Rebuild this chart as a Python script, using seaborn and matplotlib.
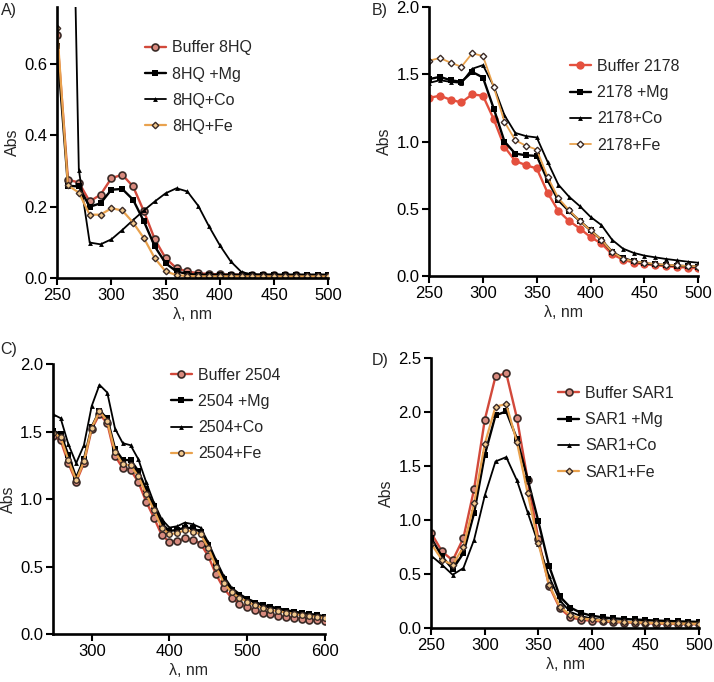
import numpy as np
import pandas as pd
import matplotlib
matplotlib.use('Agg')
import matplotlib.pyplot as plt
import seaborn as sns

sns.set_style('ticks')
plt.rcParams['font.family'] = ['Liberation Sans', 'DejaVu Sans']

# ============================================
# Data
# ============================================
WL_AB = list(range(250, 501, 10))   # panels A, B, D
WL_C = list(range(250, 601, 10))    # panel C

# A) 8HQ
A_buffer = [0.68, 0.276, 0.268, 0.215, 0.234, 0.28, 0.29, 0.257, 0.187, 0.109, 0.056, 0.028,
            0.019, 0.014, 0.012, 0.011, 0.010, 0.010, 0.009, 0.009, 0.008, 0.008, 0.008, 0.007,
            0.007, 0.007]
A_mg = [0.65, 0.259, 0.257, 0.20, 0.21, 0.248, 0.25, 0.22, 0.159, 0.089, 0.042, 0.019,
        0.012, 0.010, 0.010, 0.010, 0.010, 0.010, 0.010, 0.010, 0.010, 0.010, 0.010, 0.010,
        0.010, 0.010]
A_co = [2.2, 1.83, 0.304, 0.10, 0.095, 0.109, 0.135, 0.163, 0.19, 0.215, 0.238, 0.252,
        0.243, 0.203, 0.145, 0.092, 0.047, 0.017, 0.011, 0.010, 0.010, 0.009, 0.009, 0.009,
        0.008, 0.008]
A_fe = [0.70, 0.26, 0.24, 0.178, 0.178, 0.196, 0.19, 0.156, 0.112, 0.056, 0.019, 0.009,
        0.006, 0.005, 0.005, 0.005, 0.005, 0.005, 0.005, 0.005, 0.005, 0.005, 0.005, 0.005,
        0.005, 0.005]

# B) 2178
B_buffer = [1.324, 1.34, 1.31, 1.29, 1.35, 1.34, 1.166, 0.96, 0.856, 0.824, 0.80, 0.62,
            0.485, 0.41, 0.354, 0.29, 0.243, 0.163, 0.124, 0.10, 0.089, 0.082, 0.074, 0.069,
            0.064, 0.059]
B_mg = [1.463, 1.48, 1.455, 1.443, 1.517, 1.475, 1.245, 1.0, 0.91, 0.898, 0.893, 0.713,
        0.564, 0.483, 0.41, 0.34, 0.27, 0.18, 0.135, 0.11, 0.095, 0.088, 0.082, 0.078,
        0.074, 0.07]
B_co = [1.435, 1.455, 1.443, 1.435, 1.54, 1.567, 1.41, 1.195, 1.064, 1.04, 1.03, 0.85,
        0.68, 0.59, 0.52, 0.44, 0.38, 0.27, 0.205, 0.173, 0.153, 0.14, 0.128, 0.118,
        0.108, 0.10]
B_fe = [1.60, 1.62, 1.585, 1.555, 1.655, 1.635, 1.405, 1.146, 1.01, 0.968, 0.94, 0.738,
        0.58, 0.49, 0.41, 0.34, 0.27, 0.18, 0.13, 0.11, 0.10, 0.09, 0.085, 0.08,
        0.076, 0.072]

# C) 2504
C_buffer = [1.469, 1.437, 1.267, 1.128, 1.267, 1.519, 1.63, 1.563, 1.321, 1.23, 1.217, 1.128,
            0.983, 0.864, 0.736, 0.684, 0.69, 0.71, 0.70, 0.672, 0.578, 0.443, 0.339, 0.27,
            0.227, 0.203, 0.178, 0.158, 0.148, 0.136, 0.129, 0.121, 0.114, 0.109, 0.104, 0.096]
C_mg = [1.506, 1.486, 1.326, 1.16, 1.296, 1.536, 1.654, 1.60, 1.375, 1.29, 1.29, 1.21,
        1.074, 0.95, 0.82, 0.765, 0.773, 0.79, 0.785, 0.76, 0.66, 0.53, 0.41, 0.33,
        0.29, 0.26, 0.235, 0.215, 0.20, 0.19, 0.175, 0.165, 0.155, 0.148, 0.14, 0.13]
C_co = [1.63, 1.60, 1.407, 1.267, 1.40, 1.69, 1.847, 1.79, 1.523, 1.415, 1.40, 1.296,
        1.128, 0.975, 0.852, 0.79, 0.80, 0.827, 0.815, 0.79, 0.68, 0.55, 0.43, 0.345,
        0.30, 0.265, 0.24, 0.22, 0.205, 0.195, 0.18, 0.17, 0.16, 0.152, 0.144, 0.135]
C_fe = [1.49, 1.46, 1.29, 1.14, 1.28, 1.53, 1.65, 1.58, 1.35, 1.26, 1.25, 1.17,
        1.04, 0.92, 0.79, 0.74, 0.75, 0.77, 0.76, 0.74, 0.64, 0.50, 0.38, 0.31,
        0.27, 0.24, 0.215, 0.195, 0.18, 0.17, 0.16, 0.15, 0.14, 0.135, 0.128, 0.12]

# D) SAR1
D_buffer = [0.88, 0.71, 0.627, 0.833, 1.287, 1.93, 2.33, 2.36, 1.944, 1.373, 0.824, 0.392,
            0.185, 0.10, 0.077, 0.068, 0.062, 0.055, 0.052, 0.05, 0.045, 0.042, 0.04, 0.038,
            0.036, 0.035]
D_mg = [0.833, 0.664, 0.546, 0.694, 1.065, 1.605, 1.97, 2.006, 1.753, 1.38, 0.988, 0.577,
        0.293, 0.19, 0.14, 0.115, 0.10, 0.09, 0.085, 0.08, 0.075, 0.07, 0.067, 0.063,
        0.06, 0.058]
D_co = [0.67, 0.586, 0.494, 0.556, 0.818, 1.228, 1.543, 1.583, 1.367, 1.071, 0.78, 0.478,
        0.256, 0.15, 0.11, 0.09, 0.075, 0.065, 0.06, 0.055, 0.052, 0.05, 0.048, 0.047,
        0.046, 0.045]
D_fe = [0.78, 0.633, 0.586, 0.75, 1.157, 1.707, 2.05, 2.074, 1.722, 1.25, 0.787, 0.40,
        0.20, 0.12, 0.09, 0.08, 0.07, 0.062, 0.058, 0.055, 0.05, 0.047, 0.045, 0.043,
        0.041, 0.04]

# ============================================
# Styles
# ============================================
RED = '#d2493b'
ORANGE = '#e9a24e'
EDGE = '#3a2a26'

STYLE_BUFFER = dict(color=RED, lw=1.7, marker='o', ms=5, mfc='#d88a7e', mec=EDGE, mew=1.2)
STYLE_BUFFER_B = dict(color='#e4503e', lw=1.7, marker='o', ms=6, mfc='#e4503e', mec='#e4503e', mew=0)
STYLE_MG = dict(color='black', lw=1.7, marker='s', ms=4.5, mfc='black', mec='black', mew=0)
STYLE_CO = dict(color='black', lw=1.3, marker='^', ms=3.5, mfc='black', mec='black', mew=0)
STYLE_FE = dict(color=ORANGE, lw=1.6, marker='D', ms=3.3, mfc='#f2c98e', mec=EDGE, mew=1.0)
STYLE_FE_B = dict(color=ORANGE, lw=1.3, marker='D', ms=3.3, mfc='white', mec=EDGE, mew=1.0)
STYLE_FE_C = dict(color=ORANGE, lw=1.6, marker='o', ms=4, mfc='#f2c98e', mec=EDGE, mew=1.0)

FS_TICK = 12
FS_TEXT = 11.5


def draw_panel(ax, wl, series, xlim, xticks, ylim, yticks, legend_anchor, tag, tag_xy, fig):
    for label, vals, style in series:
        df = pd.DataFrame({'wl': wl, 'abs': vals})
        sns.lineplot(data=df, x='wl', y='abs', ax=ax, label=label, **style)
    ax.set_xlim(*xlim)
    ax.set_ylim(*ylim)
    ax.set_xticks(xticks)
    ax.set_yticks(yticks)
    ax.set_yticklabels([f'{t:.1f}' for t in yticks])
    sns.despine(ax=ax)
    for sp in ['left', 'bottom']:
        ax.spines[sp].set_linewidth(1.9)
        ax.spines[sp].set_color('black')
    ax.tick_params(width=1.5, length=5, labelsize=FS_TICK, colors='black', pad=2)
    ax.set_xlabel('λ, nm', fontsize=FS_TEXT, labelpad=3)
    ax.set_ylabel('Abs', fontsize=FS_TEXT, labelpad=3)
    ax.legend(loc='upper left', bbox_to_anchor=legend_anchor, frameon=False,
              fontsize=FS_TEXT, handlelength=1.3, handletextpad=0.4, labelspacing=0.7,
              borderaxespad=0)
    fig.text(tag_xy[0], tag_xy[1], tag, fontsize=FS_TEXT, ha='left', va='top')


fig = plt.figure(figsize=(7.14, 6.82), dpi=100)

axA = fig.add_axes([0.080, 0.592, 0.380, 0.398])
axB = fig.add_axes([0.601, 0.595, 0.377, 0.395])
axC = fig.add_axes([0.074, 0.070, 0.381, 0.396])
axD = fig.add_axes([0.604, 0.079, 0.375, 0.396])

draw_panel(axA, WL_AB,
           [('Buffer 8HQ', A_buffer, STYLE_BUFFER), ('8HQ +Mg', A_mg, STYLE_MG),
            ('8HQ+Co', A_co, STYLE_CO), ('8HQ+Fe', A_fe, STYLE_FE)],
           (250, 500), [250, 300, 350, 400, 450, 500], (0, 0.76), [0.0, 0.2, 0.4, 0.6],
           (0.30, 0.90), 'A)', (0.002, 0.995), fig)

draw_panel(axB, WL_AB,
           [('Buffer 2178', B_buffer, STYLE_BUFFER_B), ('2178 +Mg', B_mg, STYLE_MG),
            ('2178+Co', B_co, STYLE_CO), ('2178+Fe', B_fe, STYLE_FE_B)],
           (250, 500), [250, 300, 350, 400, 450, 500], (0, 2.0), [0.0, 0.5, 1.0, 1.5, 2.0],
           (0.50, 0.83), 'B)', (0.520, 0.995), fig)

draw_panel(axC, WL_C,
           [('Buffer 2504', C_buffer, STYLE_BUFFER), ('2504 +Mg', C_mg, STYLE_MG),
            ('2504+Co', C_co, STYLE_CO), ('2504+Fe', C_fe, STYLE_FE_C)],
           (250, 600), [300, 400, 500, 600], (0, 2.0), [0.0, 0.5, 1.0, 1.5, 2.0],
           (0.41, 1.01), 'C)', (0.000, 0.498), fig)

draw_panel(axD, WL_AB,
           [('Buffer SAR1', D_buffer, STYLE_BUFFER), ('SAR1 +Mg', D_mg, STYLE_MG),
            ('SAR1+Co', D_co, STYLE_CO), ('SAR1+Fe', D_fe, STYLE_FE)],
           (250, 500), [250, 300, 350, 400, 450, 500], (0, 2.5), [0.0, 0.5, 1.0, 1.5, 2.0, 2.5],
           (0.45, 0.92), 'D)', (0.520, 0.482), fig)

fig.savefig('out.png', dpi=100)
